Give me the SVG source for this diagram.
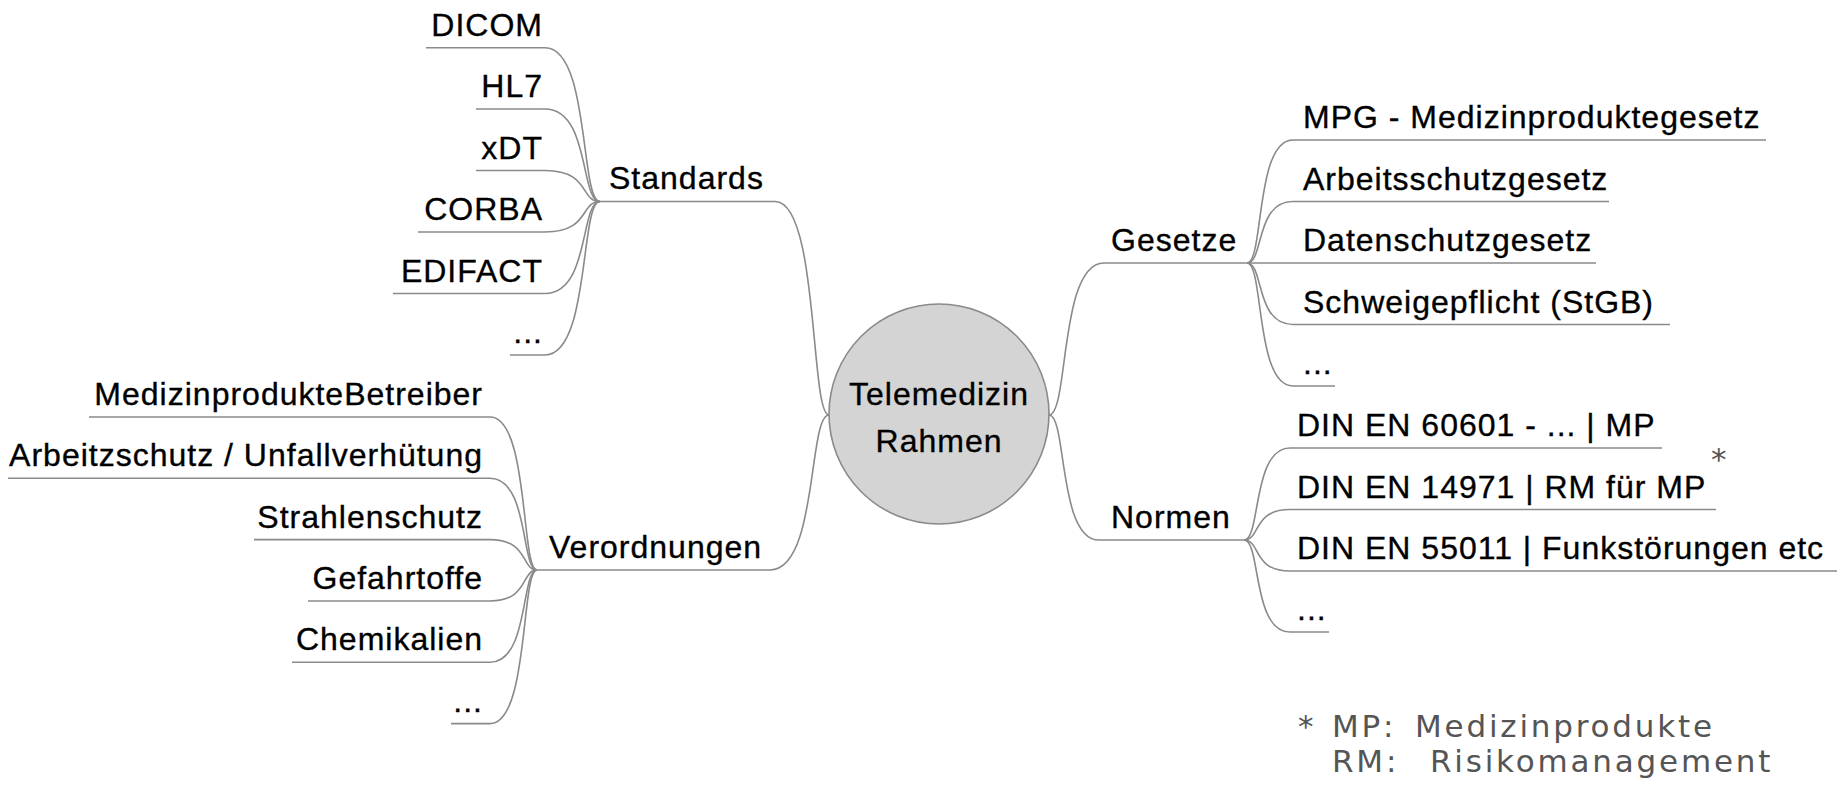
<svg xmlns="http://www.w3.org/2000/svg" width="1839" height="790" viewBox="0 0 1839 790">
<style>
.t{font-family:"Liberation Sans",Arial,sans-serif;font-size:32px;letter-spacing:1px;fill:#000;stroke:#000;stroke-width:0.35px}
.e{text-anchor:end}
.l{fill:none;stroke:#8a8a8a;stroke-width:1.6}
.fn{font-family:"DejaVu Sans",Verdana,sans-serif;font-size:31px;letter-spacing:2.8px;fill:#555}
</style>
<rect width="1839" height="790" fill="#fff"/>
<g id="connectors" class="l">
<path d="M829,415 C810,415 819,201.5 775,201.5 H600"/>
<path d="M829,415 C808,415 818,570 770,570 H537"/>
<path d="M1049,415 C1069,415 1059,263 1104,263 H1247"/>
<path d="M1049,415 C1067,415 1058,540 1099,540 H1244"/>
<path d="M426,47.7 H545 C590,47.7 580,201.5 600,201.5"/>
<path d="M476,109 H545 C590,109 580,201.5 600,201.5"/>
<path d="M476,170.5 H545 C590,170.5 580,201.5 600,201.5"/>
<path d="M418,232 H545 C590,232 580,201.5 600,201.5"/>
<path d="M393,293.5 H545 C590,293.5 580,201.5 600,201.5"/>
<path d="M510,355 H545 C590,355 580,201.5 600,201.5"/>
<path d="M89,417 H490 C529,417 521,570 537,570"/>
<path d="M8,478.3 H490 C529,478.3 521,570 537,570"/>
<path d="M254,539.6 H490 C529,539.6 521,570 537,570"/>
<path d="M308,601 H490 C529,601 521,570 537,570"/>
<path d="M292,662.3 H490 C529,662.3 521,570 537,570"/>
<path d="M451,723.6 H490 C529,723.6 521,570 537,570"/>
<path d="M1247,263 C1264,263 1255,140 1293,140 H1766"/>
<path d="M1247,263 C1264,263 1255,201.5 1293,201.5 H1609"/>
<path d="M1247,263 H1596"/>
<path d="M1247,263 C1264,263 1255,324.5 1293,324.5 H1670"/>
<path d="M1247,263 C1264,263 1255,386 1293,386 H1335"/>
<path d="M1244,540 C1261,540 1252,448 1290,448 H1662"/>
<path d="M1244,540 C1261,540 1252,509.5 1290,509.5 H1716"/>
<path d="M1244,540 C1261,540 1252,571 1290,571 H1837"/>
<path d="M1244,540 C1261,540 1252,632 1290,632 H1329"/>
</g>
<g id="center">
<circle cx="939" cy="414" r="110" fill="#d4d4d4" stroke="#8a8a8a" stroke-width="1.6"/>
<text class="t" x="939" y="405" text-anchor="middle">Telemedizin</text>
<text class="t" x="939" y="452" text-anchor="middle">Rahmen</text>
</g>
<g id="standards"><text class="t" x="609" y="189">Standards</text></g>
<g id="dicom"><text class="t e" x="543" y="35.7">DICOM</text></g>
<g id="hl7"><text class="t e" x="543" y="97">HL7</text></g>
<g id="xdt"><text class="t e" x="543" y="158.5">xDT</text></g>
<g id="corba"><text class="t e" x="543" y="220">CORBA</text></g>
<g id="edifact"><text class="t e" x="543" y="281.5">EDIFACT</text></g>
<g id="std-more"><text class="t e" x="543" y="343">...</text></g>
<g id="verordnungen"><text class="t" x="549" y="558">Verordnungen</text></g>
<g id="mpbetreiber"><text class="t e" x="483" y="405">MedizinprodukteBetreiber</text></g>
<g id="arbeitzschutz"><text class="t e" x="483" y="466.3">Arbeitzschutz / Unfallverhütung</text></g>
<g id="strahlenschutz"><text class="t e" x="483" y="527.6">Strahlenschutz</text></g>
<g id="gefahrtoffe"><text class="t e" x="483" y="589">Gefahrtoffe</text></g>
<g id="chemikalien"><text class="t e" x="483" y="650.3">Chemikalien</text></g>
<g id="vo-more"><text class="t e" x="483" y="711.6">...</text></g>
<g id="gesetze"><text class="t" x="1111" y="251">Gesetze</text></g>
<g id="mpg"><text class="t" x="1303" y="128">MPG - Medizinproduktegesetz</text></g>
<g id="arbeitsschutzgesetz"><text class="t" x="1303" y="189.5">Arbeitsschutzgesetz</text></g>
<g id="datenschutzgesetz"><text class="t" x="1303" y="251">Datenschutzgesetz</text></g>
<g id="schweigepflicht"><text class="t" x="1303" y="312.5">Schweigepflicht (StGB)</text></g>
<g id="ges-more"><text class="t" x="1303" y="374">...</text></g>
<g id="normen"><text class="t" x="1111" y="528">Normen</text></g>
<g id="din60601"><text class="t" x="1297" y="436">DIN EN 60601 - ... | MP</text></g>
<g id="din14971"><text class="t" x="1297" y="497.5">DIN EN 14971 | RM für MP</text><text class="fn" x="1711" y="470" style="letter-spacing:0">*</text></g>
<g id="din55011"><text class="t" x="1297" y="559">DIN EN 55011 | Funkstörungen etc</text></g>
<g id="norm-more"><text class="t" x="1297" y="620">...</text></g>
<g id="footnote">
<text class="fn" x="1298" y="737">*</text>
<text class="fn" x="1332" y="737">MP:</text>
<text class="fn" x="1415" y="737">Medizinprodukte</text>
<text class="fn" x="1332" y="772">RM:</text>
<text class="fn" x="1430" y="772">Risikomanagement</text>
</g>
</svg>
